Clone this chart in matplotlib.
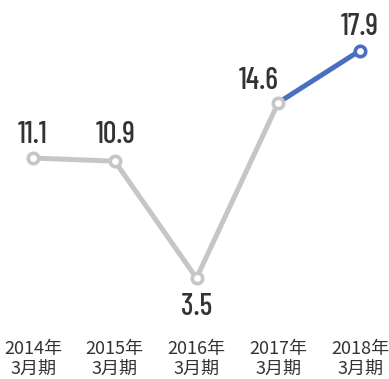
import matplotlib
matplotlib.use("Agg")
import matplotlib.pyplot as plt

years = ["2014年\n3月期", "2015年\n3月期", "2016年\n3月期", "2017年\n3月期", "2018年\n3月期"]
values = [11.1, 10.9, 3.5, 14.6, 17.9]

gray = "#c6c6c6"
blue = "#4a6fc2"
text_color = "#333333"

fig = plt.figure(figsize=(3.89, 3.79), dpi=100)
ax = fig.add_axes([0, 0.129, 1, 0.871])
ax.set_xlim(-0.4037, 4.3547)
ax.set_ylim(0.21, 21.1)

x = list(range(len(values)))
ax.plot(x[:-1], values[:-1], color=gray, lw=3.6, solid_capstyle="round", zorder=1)
ax.plot(x[-2:], values[-2:], color=blue, lw=3.6, solid_capstyle="round", zorder=1)
for i, v in enumerate(values):
    ec = blue if i == len(values) - 1 else gray
    ax.plot(i, v, "o", ms=7.5, mfc="white", mec=ec, mew=2.6, zorder=2)

num_font = ["Barlow Condensed", "Roboto Condensed", "DejaVu Sans"]
for i, v in enumerate(values):
    if i == 2:
        off = (0, -37)
    elif i == 3:
        off = (-20, 14)
    elif i == 1:
        off = (1, 18)
    else:
        off = (0, 15.5)
    ax.annotate(f"{v}", (i, v), xytext=off, textcoords="offset pixels",
                ha="center", va="baseline", fontsize=21.5, fontweight=500,
                color=text_color, family=num_font)

ax.set_xticks(x)
ax.set_xticklabels(years, family=["Noto Sans CJK JP", "DejaVu Sans"],
                   fontsize=13, color=text_color, linespacing=1.15)
ax.tick_params(axis="x", length=0, pad=7)
ax.set_yticks([])
for s in ax.spines.values():
    s.set_visible(False)

fig.savefig("out.png", dpi=100)
